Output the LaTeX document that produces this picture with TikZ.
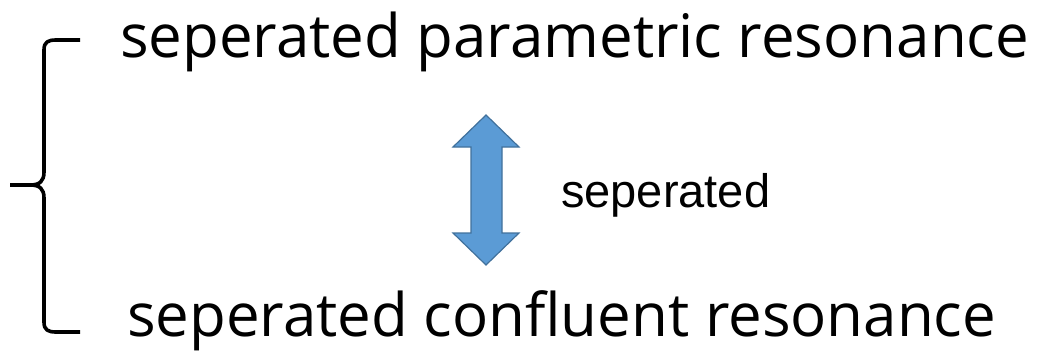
\documentclass[tikz,border=0pt]{standalone}
\usepackage{fontspec}
\setmainfont{Open Sans}
\newfontfamily\arialf{Liberation Sans}
\begin{document}
\begin{tikzpicture}[x=1pt,y=-1pt,
  bigtext/.style={inner sep=0pt,anchor=base west,font=\fontsize{60}{64}\selectfont},
  midtext/.style={inner sep=0pt,anchor=base west,font=\arialf\fontsize{47}{52}\selectfont},
  brace/.style={line width=3.6pt,line cap=butt,line join=round},
  dblarrow/.style={fill={rgb,255:red,91;green,155;blue,213},draw={rgb,255:red,65;green,113;blue,156},line width=1.2pt,line join=miter}]
\useasboundingbox (0,0) rectangle (1038,353);
\node[bigtext] (top) at (120,58) {seperated parametric resonance};
\node[bigtext] (bot) at (127,336) {seperated confluent resonance};
\node[midtext] (mid) at (561,207) {seperated};
\coordinate (bt) at (80,40);
\coordinate (bb) at (80,332);
\coordinate (tip) at (10,185);
\draw[brace] (bt) -- (56,40) .. controls (48,40) and (44,42) .. (44,50) -- (44,172)
  .. controls (44,181) and (40,185) .. (30,185) -- (tip);
\draw[brace] (tip) -- (30,185) .. controls (40,185) and (44,189) .. (44,198) -- (44,322)
  .. controls (44,330) and (48,332) .. (56,332) -- (bb);
\draw[dblarrow] (486,115) -- (519,147) -- (502,147) -- (502,233) -- (519,233) -- (486,265)
  -- (453,233) -- (471,233) -- (471,147) -- (453,147) -- cycle;
\end{tikzpicture}
\end{document}
